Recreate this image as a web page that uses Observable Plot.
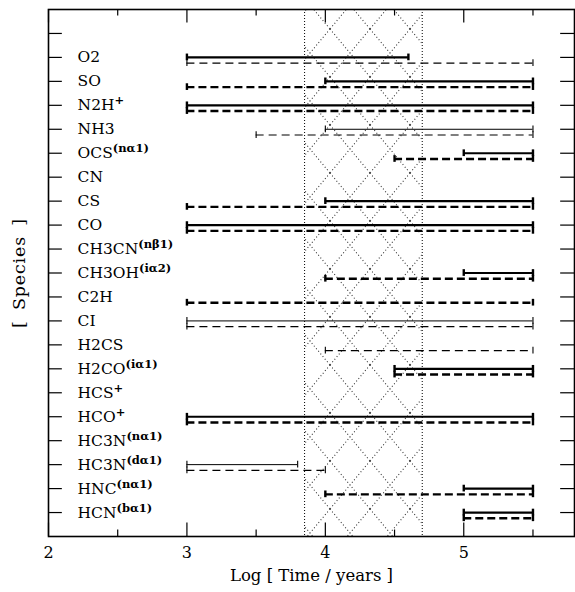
<!DOCTYPE html>
<html>
<head>
<meta charset="utf-8">
<script src="https://cdn.jsdelivr.net/npm/d3@7"></script>
<script src="https://cdn.jsdelivr.net/npm/@observablehq/plot@0.6"></script>
<style>
  body { margin: 0; background: white; }
  #chart svg { display: block; }
  .ytitle text { letter-spacing: 0.8px; word-spacing: 4px; }
</style>
</head>
<body>
<div id="chart"></div>
<script>
// ---- Data ----
const species = ["O2","SO","N2H","NH3","OCS","CN","CS","CO","CH3CN","CH3OH","C2H","CI","H2CS","H2CO","HCS","HCO","HC3N","HC3N","HNC","HCN"];
const superscripts = ["","","+","","(nα1)","","","","(nβ1)","(iα2)","","","","(iα1)","+","+","(nα1)","(dα1)","(nα1)","(bα1)"];
const solidStart  = [3,   4,   3,   4,   5,   null,4,   3,   null,5,   null,3,   null,4.5, null,3,   null,3,   5,   5];
const solidEnd    = [4.6, 5.5, 5.5, 5.5, 5.5, null,5.5, 5.5, null,5.5, null,5.5, null,5.5, null,5.5, null,3.8, 5.5, 5.5];
const solidWeight = ["thick","thick","thick","thin","thick",null,"thick","thick",null,"thick",null,"thin",null,"thick",null,"thick",null,"thin","thick","thick"];
const dashStart   = [3,   3,   3,   3.5, 4.5, null,3,   3,   null,4,   3,   3,   4,   4.5, null,3,   null,3,   4,   5];
const dashEnd     = [5.5, 5.5, 5.5, 5.5, 5.5, null,5.5, 5.5, null,5.5, 5.5, 5.5, 5.5, 5.5, null,5.5, null,4,   5.5, 5.5];
const dashWeight  = ["thin","thick","thick","thin","thick",null,"thick","thick",null,"thick","thick","thin","thin","thick",null,"thick",null,"thin","thick","thick"];
const bandRange = [3.85, 4.7];
const xMajorTicks = [2, 3, 4, 5];
const xMinorTicks = [2.5, 3.5, 4.5, 5.5];
const yTickValues = d3.range(1, 22);
const xLabel = "Log [ Time / years ]";
const yLabel = "[ Species ]";

// ---- Build tables ----
const n = species.length;
const rows = species.map((s, i) => ({name: s, sup: superscripts[i], y: n - i}));
const segs = [];
rows.forEach((r, i) => {
  if (solidStart[i] != null) segs.push({y: r.y, x1: solidStart[i], x2: solidEnd[i], w: solidWeight[i], dash: false});
  if (dashStart[i] != null) segs.push({y: r.y - 0.24, x1: dashStart[i], x2: dashEnd[i], w: dashWeight[i], dash: true});
});
const caps = segs.flatMap(s => [{x: s.x1, y: s.y, w: s.w}, {x: s.x2, y: s.y, w: s.w}]);
const sel = (dash, w) => segs.filter(s => s.dash === dash && s.w === w);
const capHalf = 0.14;

const chart = Plot.plot({
  width: 575,
  height: 592,
  marginLeft: 48,
  marginRight: 1,
  marginTop: 9,
  marginBottom: 56,
  x: {domain: [2, 5.8], axis: null},
  y: {domain: [0, 22], axis: null},
  style: {fontFamily: "DejaVu Serif", fontSize: "15px", background: "white", color: "black"},
  marks: [
    Plot.rect([bandRange], {x1: d => d[0], x2: d => d[1], fill: "url(#hatch)"}),
    Plot.ruleX(bandRange, {x: d => d, stroke: "black", strokeWidth: 1, strokeDasharray: "1,2"}),
    // segments
    Plot.ruleY(sel(false, "thick"), {y: "y", x1: "x1", x2: "x2", stroke: "black", strokeWidth: 2.2}),
    Plot.ruleY(sel(false, "thin"), {y: "y", x1: "x1", x2: "x2", stroke: "black", strokeWidth: 1}),
    Plot.ruleY(sel(true, "thick"), {y: "y", x1: "x1", x2: "x2", stroke: "black", strokeWidth: 2.4, strokeDasharray: "8,4"}),
    Plot.ruleY(sel(true, "thin"), {y: "y", x1: "x1", x2: "x2", stroke: "black", strokeWidth: 1.1, strokeDasharray: "8,5"}),
    // end caps
    Plot.ruleX(caps.filter(c => c.w === "thick"), {x: "x", y1: d => d.y - capHalf, y2: d => d.y + capHalf, stroke: "black", strokeWidth: 2.4}),
    Plot.ruleX(caps.filter(c => c.w === "thin"), {x: "x", y1: d => d.y - capHalf, y2: d => d.y + capHalf, stroke: "black", strokeWidth: 1.1}),
    // inward ticks
    Plot.ruleX(xMajorTicks, {x: d => d, y1: () => 0, y2: () => 0.56, stroke: "black", strokeWidth: 1.2}),
    Plot.ruleX(xMinorTicks, {x: d => d, y1: () => 0, y2: () => 0.27, stroke: "black", strokeWidth: 1.2}),
    Plot.ruleX(xMajorTicks, {x: d => d, y1: () => 22, y2: () => 21.44, stroke: "black", strokeWidth: 1.2}),
    Plot.ruleX(xMinorTicks, {x: d => d, y1: () => 22, y2: () => 21.73, stroke: "black", strokeWidth: 1.2}),
    Plot.ruleY(yTickValues, {y: d => d, x1: () => 2, x2: () => 2.1, stroke: "black", strokeWidth: 1.2}),
    Plot.ruleY(yTickValues, {y: d => d, x1: () => 5.8, x2: () => 5.7, stroke: "black", strokeWidth: 1.2}),
    // species labels
    Plot.text(rows, {x: () => 2.21, y: "y", text: d => d.name + "^" + d.sup, textAnchor: "start", fontSize: 15.5, className: "sp"}),
    // x tick labels
    Plot.text(xMajorTicks, {x: d => d, y: () => 0, text: d => String(d), dy: 16, lineAnchor: "middle", fontSize: 16}),
    // axis titles
    Plot.text([xLabel], {frameAnchor: "bottom", text: d => d, dy: 39, textAnchor: "middle", lineAnchor: "middle", fontSize: 16.5}),
    Plot.text([yLabel], {frameAnchor: "left", text: d => d, dx: -29, rotate: -90, textAnchor: "middle", lineAnchor: "middle", fontSize: 17.5, className: "ytitle"}),
    Plot.frame({stroke: "black", strokeWidth: 1.6})
  ]
});

// hatch pattern definition
const svg = d3.select(chart);
const defs = svg.insert("defs", ":first-child");
const pat = defs.append("pattern")
  .attr("id", "hatch")
  .attr("patternUnits", "userSpaceOnUse")
  .attr("width", 40).attr("height", 48)
  .attr("patternTransform", "translate(10,29)");
pat.append("path")
  .attr("d", "M0,0L40,48M40,0L0,48")
  .attr("stroke", "#333").attr("stroke-width", 1.1).attr("stroke-dasharray", "1,2.4").attr("fill", "none");

// superscripts
svg.selectAll("g.sp text").each(function() {
  const t = d3.select(this);
  const [base, sup] = t.text().split("^");
  t.text(null);
  t.append("tspan").text(base);
  if (sup) {
    t.append("tspan").text(sup).attr("dy", -6).attr("font-size", 11.5).attr("font-weight", "bold");
  }
});

document.getElementById("chart").appendChild(chart);
</script>
</body>
</html>
